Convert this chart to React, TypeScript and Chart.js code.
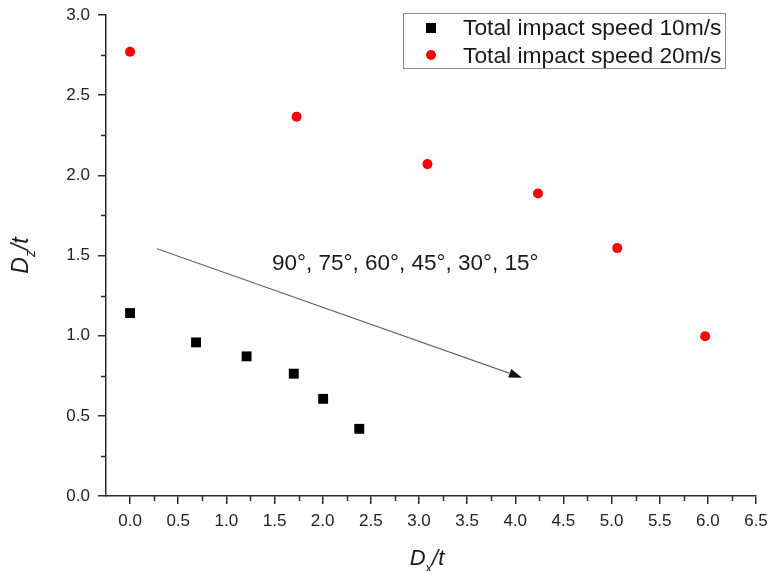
import React, { useEffect, useRef } from "react";
import { Chart, registerables } from "chart.js";

Chart.register(...registerables);

// ---------- data ----------
const seriesNames = ["Total impact speed 10m/s", "Total impact speed 20m/s"];
const speed10X = [0.0, 0.685, 1.21, 1.7, 2.005, 2.38];
const speed10Y = [1.141, 0.958, 0.871, 0.763, 0.606, 0.419];
const speed20X = [0.0, 1.729, 3.088, 4.236, 5.059, 5.972];
const speed20Y = [2.771, 2.366, 2.07, 1.887, 1.546, 0.996];

const xTickValues = [0, 0.5, 1, 1.5, 2, 2.5, 3, 3.5, 4, 4.5, 5, 5.5, 6, 6.5];
const yTickValues = [0, 0.5, 1, 1.5, 2, 2.5, 3];
const xMinorValues = [0.25, 0.75, 1.25, 1.75, 2.25, 2.75, 3.25, 3.75, 4.25, 4.75, 5.25, 5.75, 6.25];
const yMinorValues = [0.25, 0.75, 1.25, 1.75, 2.25, 2.75];

const xRange = [-0.25, 6.5];
const yRange = [0, 3];

const arrowStart = { x: 0.28, y: 1.542 };
const arrowEnd = { x: 4.07, y: 0.738 };
const annotationText = "90°, 75°, 60°, 45°, 30°, 15°";
const annotationAnchor = { x: 1.473, y: 1.411 };

const FONT = '"Liberation Sans", Arial, Helvetica, sans-serif';
const AXIS_COLOR = "#2a2a2a";

type Part = { text: string; sub?: boolean };

function drawRich(ctx: CanvasRenderingContext2D, parts: Part[], cx: number, baseline: number, size: number) {
  const mainFont = `italic ${size}px ${FONT}`;
  const subFont = `italic ${Math.round(size * 0.6)}px ${FONT}`;
  let total = 0;
  const widths = parts.map((p) => {
    ctx.font = p.sub ? subFont : mainFont;
    const w = ctx.measureText(p.text).width;
    total += w;
    return w;
  });
  let x = cx - total / 2;
  ctx.textAlign = "left";
  ctx.textBaseline = "alphabetic";
  parts.forEach((p, i) => {
    ctx.font = p.sub ? subFont : mainFont;
    ctx.fillText(p.text, x, p.sub ? baseline + size * 0.3 : baseline);
    x += widths[i];
  });
}

const decorPlugin = {
  id: "decor",
  afterDraw(chart: any) {
    const ctx: CanvasRenderingContext2D = chart.ctx;
    const xs = chart.scales.x;
    const ys = chart.scales.y;
    const area = chart.chartArea;
    ctx.save();

    // minor ticks
    ctx.strokeStyle = AXIS_COLOR;
    ctx.lineWidth = 1.5;
    ctx.beginPath();
    xMinorValues.forEach((v) => {
      const px = Math.round(xs.getPixelForValue(v)) + 0.5;
      ctx.moveTo(px, area.bottom);
      ctx.lineTo(px, area.bottom + 5);
    });
    yMinorValues.forEach((v) => {
      const py = Math.round(ys.getPixelForValue(v)) + 0.5;
      ctx.moveTo(area.left, py);
      ctx.lineTo(area.left - 5, py);
    });
    ctx.stroke();

    // arrow
    const x1 = xs.getPixelForValue(arrowStart.x);
    const y1 = ys.getPixelForValue(arrowStart.y);
    const x2 = xs.getPixelForValue(arrowEnd.x);
    const y2 = ys.getPixelForValue(arrowEnd.y);
    const ang = Math.atan2(y2 - y1, x2 - x1);
    const headLen = 13;
    const headW = 4.5;
    const bx = x2 - headLen * Math.cos(ang);
    const by = y2 - headLen * Math.sin(ang);
    ctx.strokeStyle = "#6a6a6a";
    ctx.lineWidth = 1.2;
    ctx.beginPath();
    ctx.moveTo(x1, y1);
    ctx.lineTo(bx, by);
    ctx.stroke();
    ctx.fillStyle = "#111";
    ctx.beginPath();
    ctx.moveTo(x2, y2);
    ctx.lineTo(bx + headW * Math.sin(ang), by - headW * Math.cos(ang));
    ctx.lineTo(bx - headW * Math.sin(ang), by + headW * Math.cos(ang));
    ctx.closePath();
    ctx.fill();

    // annotation
    ctx.fillStyle = "#1a1a1a";
    ctx.font = `22.5px ${FONT}`;
    ctx.textAlign = "left";
    ctx.textBaseline = "alphabetic";
    ctx.fillText(annotationText, xs.getPixelForValue(annotationAnchor.x), ys.getPixelForValue(annotationAnchor.y));

    // legend box
    const lx = 403, ly = 13, lw = 322, lh = 55;
    ctx.strokeStyle = "#8a8a8a";
    ctx.lineWidth = 1;
    ctx.strokeRect(lx + 0.5, ly + 0.5, lw, lh);
    ctx.fillStyle = "#000";
    ctx.fillRect(426, 23, 10, 10);
    ctx.fillStyle = "#ff0000";
    ctx.beginPath();
    ctx.arc(431, 55, 5, 0, Math.PI * 2);
    ctx.fill();
    ctx.fillStyle = "#1a1a1a";
    ctx.font = `22.8px ${FONT}`;
    ctx.fillText(seriesNames[0], 463, 35);
    ctx.fillText(seriesNames[1], 463, 63);

    // axis titles
    ctx.fillStyle = "#1a1a1a";
    const midX = (area.left + area.right) / 2;
    drawRich(ctx, [{ text: "D" }, { text: "x", sub: true }, { text: "/t" }], midX - 4, 565, 22);
    ctx.save();
    ctx.translate(28, (area.top + area.bottom) / 2);
    ctx.rotate(-Math.PI / 2);
    drawRich(ctx, [{ text: "D" }, { text: "z", sub: true }, { text: "/t" }], 0, 0, 23);
    ctx.restore();

    ctx.restore();
  },
};

export default function App() {
  const canvasRef = useRef<HTMLCanvasElement | null>(null);

  useEffect(() => {
    if (!canvasRef.current) return;
    const chart = new Chart(canvasRef.current, {
      type: "scatter",
      data: {
        datasets: [
          {
            label: seriesNames[0],
            data: speed10X.map((x, i) => ({ x, y: speed10Y[i] })),
            pointStyle: "rect",
            pointRadius: 7,
            pointBackgroundColor: "#000000",
            pointBorderWidth: 0,
            borderColor: "#000000",
            showLine: false,
          },
          {
            label: seriesNames[1],
            data: speed20X.map((x, i) => ({ x, y: speed20Y[i] })),
            pointStyle: "circle",
            pointRadius: 5,
            pointBackgroundColor: "#ff0000",
            pointBorderWidth: 0,
            borderColor: "#ff0000",
            showLine: false,
          },
        ],
      },
      options: {
        animation: false,
        responsive: false,
        devicePixelRatio: 1,
        layout: { padding: { top: 15, right: 13, left: 0, bottom: 0 } },
        plugins: {
          legend: { display: false },
          tooltip: { enabled: false },
          title: { display: false },
        },
        scales: {
          x: {
            type: "linear",
            min: xRange[0],
            max: xRange[1],
            afterBuildTicks: (scale: any) => {
              scale.ticks = xTickValues.map((v) => ({ value: v }));
            },
            afterFit: (scale: any) => {
              scale.height = 75;
              scale.paddingLeft = 0;
              scale.paddingRight = 0;
            },
            grid: { drawOnChartArea: false, color: AXIS_COLOR, lineWidth: 1.5, tickLength: 8 },
            border: { display: true, color: AXIS_COLOR, width: 1.5 },
            ticks: {
              autoSkip: false,
              maxRotation: 0,
              padding: 7,
              color: "#222",
              font: { family: FONT, size: 17 },
              callback: (v: any) => Number(v).toFixed(1),
            },
          },
          y: {
            type: "linear",
            min: yRange[0],
            max: yRange[1],
            afterBuildTicks: (scale: any) => {
              scale.ticks = yTickValues.map((v) => ({ value: v }));
            },
            afterFit: (scale: any) => {
              scale.width = 106;
              scale.paddingTop = 0;
              scale.paddingBottom = 0;
            },
            grid: { drawOnChartArea: false, color: AXIS_COLOR, lineWidth: 1.5, tickLength: 8 },
            border: { display: true, color: AXIS_COLOR, width: 1.5 },
            ticks: {
              autoSkip: false,
              padding: 8,
              color: "#222",
              font: { family: FONT, size: 17 },
              callback: (v: any) => Number(v).toFixed(1),
            },
          },
        },
      },
      plugins: [decorPlugin],
    } as any);
    return () => chart.destroy();
  }, []);

  return (
    <div style={{ position: "absolute", left: 0, top: 0, width: 769, height: 571, background: "#fff" }}>
      <canvas ref={canvasRef} width={769} height={571} />
    </div>
  );
}
